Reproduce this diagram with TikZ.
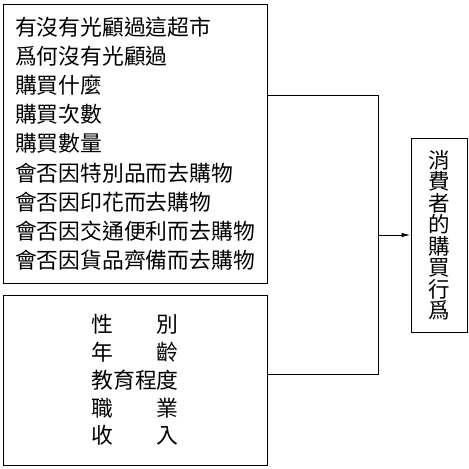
\documentclass[tikz,border=0pt]{standalone}
\usepackage{fontspec}
\newfontfamily\cjk{Noto Sans CJK TC}
\usetikzlibrary{arrows.meta}

\begin{document}
\begin{tikzpicture}[
  x=1pt, y=-1pt,
  every node/.style={draw, line width=1pt, inner sep=0pt, align=center},
  factbox/.style={minimum width=264pt, font=\cjk\fontsize{21.8}{29.2}\selectfont},
  personbox/.style={minimum width=264pt, minimum height=170pt,
                    font=\cjk\fontsize{21.8}{27.8}\selectfont},
  resultbox/.style={minimum width=56pt, minimum height=194pt,
                    font=\cjk\fontsize{21.5}{21.5}\selectfont},
  link/.style={line width=1pt}
]
  \useasboundingbox (0,0) rectangle (469,469);
  \node[factbox, minimum height=279pt, align=left] (reasons) at (135,143.5)
    {有沒有光顧過這超市\\爲何沒有光顧過\\購買什麼\\購買次數\\購買數量\\
     會否因特別品而去購物\\會否因印花而去購物\\會否因交通便利而去購物\\
     會否因貨品齊備而去購物};
  \node[personbox] (person) at (135,380)
    {性　　別\\年　　齡\\教育程度\\職　　業\\收　　入};
  \node[resultbox] (behavior) at (439,235)
    {消\\費\\者\\的\\購\\買\\行\\爲};
  \coordinate (join) at (378,235);
  \draw[link] ([yshift=48.5pt]reasons.east) -| (join);
  \draw[link] ([yshift=6pt]person.east) -| (join);
  \draw[link, -{Latex[length=9pt, width=4.5pt]}] (join) -- (behavior);
\end{tikzpicture}
\end{document}
